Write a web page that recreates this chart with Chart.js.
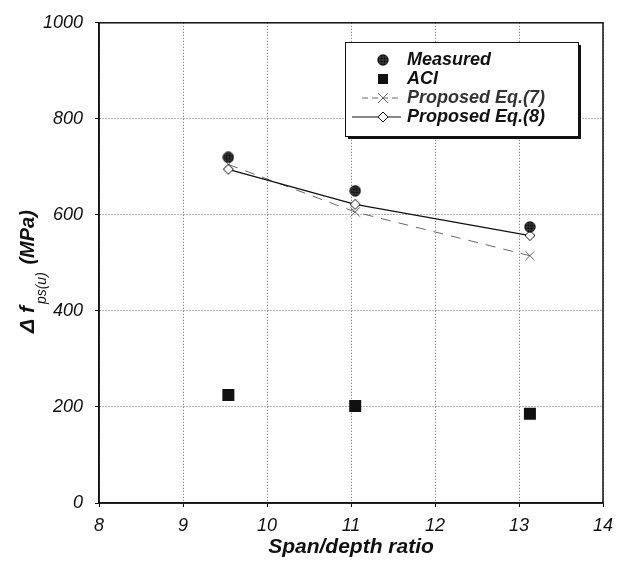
<!DOCTYPE html>
<html>
<head>
<meta charset="utf-8">
<script src="https://cdn.jsdelivr.net/npm/chart.js@4.4.1/dist/chart.umd.min.js"></script>
<style>
  html, body { margin: 0; padding: 0; background: #fff; }
  #wrap { width: 627px; height: 563px; position: relative; }
</style>
</head>
<body>
<div id="wrap"><canvas id="c" width="627" height="563"></canvas></div>
<script>
// Span/depth ratio of the three beams
const spanDepth = [9.54, 11.05, 13.13];
// Stress increase in unbonded tendons, MPa
const measured = [720, 650, 575];
const aci = [225, 202, 186];
const proposedEq7 = [705, 606, 515];
const proposedEq8 = [695, 622, 557];
// Axis ticks
const xTicks = [8, 9, 10, 11, 12, 13, 14];
const yTicks = [0, 200, 400, 600, 800, 1000];

const FONT = '"Liberation Sans", Arial, sans-serif';

// Hatched filled circle used for measured values
function hatchedCircle(d) {
  const cv = document.createElement('canvas');
  cv.width = d; cv.height = d;
  const g = cv.getContext('2d');
  const r = d / 2;
  g.beginPath(); g.arc(r, r, r - 0.3, 0, Math.PI * 2);
  g.fillStyle = '#0a0a0a'; g.fill();
  g.save(); g.clip();
  g.strokeStyle = 'rgba(255,255,255,0.3)'; g.lineWidth = 0.6;
  for (let p = 3; p < d; p += 3) {
    g.beginPath(); g.moveTo(p, 0); g.lineTo(p, d); g.stroke();
    g.beginPath(); g.moveTo(0, p); g.lineTo(d, p); g.stroke();
  }
  g.restore();
  return cv;
}
// Open diamond for Eq.(8)
function diamond(d) {
  const cv = document.createElement('canvas');
  cv.width = d + 2; cv.height = d + 2;
  const g = cv.getContext('2d');
  const c = (d + 2) / 2, h = d / 2;
  g.beginPath();
  g.moveTo(c, c - h); g.lineTo(c + h, c); g.lineTo(c, c + h); g.lineTo(c - h, c); g.closePath();
  g.fillStyle = '#fff'; g.fill();
  g.strokeStyle = '#111'; g.lineWidth = 1; g.stroke();
  return cv;
}
const circleImg = hatchedCircle(12);
const diamondImg = diamond(10);

function pts(ys) { return spanDepth.map((x, i) => ({ x: x, y: ys[i] })); }

// Frame around the plotting area, y-axis title with subscript, x-axis title, legend
const decor = {
  id: 'decor',
  afterDraw(chart) {
    const ctx = chart.ctx, a = chart.chartArea;
    ctx.save();
    ctx.strokeStyle = '#111'; ctx.lineWidth = 1.5;
    ctx.strokeRect(a.left, a.top, a.right - a.left, a.bottom - a.top);

    // x-axis title
    ctx.fillStyle = '#111';
    ctx.font = 'italic bold 21px ' + FONT;
    ctx.textAlign = 'center'; ctx.textBaseline = 'middle';
    ctx.fillText('Span/depth ratio', 351, 547);

    // y-axis title, rotated
    ctx.save();
    ctx.translate(28, 270);
    ctx.rotate(-Math.PI / 2);
    ctx.textAlign = 'left'; ctx.textBaseline = 'middle';
    let x = -63;
    ctx.font = 'italic bold 21px ' + FONT;
    ctx.fillText('\u0394 f', x, 0);
    x += ctx.measureText('\u0394 f').width + 2;
    ctx.font = 'italic 14px ' + FONT;
    ctx.fillText('ps(u)', x, 14);
    x += ctx.measureText('ps(u)').width + 2;
    ctx.font = 'italic bold 20px ' + FONT;
    ctx.fillText(' (MPa)', x, 0);
    ctx.restore();

    // legend box with drop shadow
    const bx = 345, by = 42, bw = 233, bh = 94;
    ctx.fillStyle = '#111';
    ctx.fillRect(bx + 3, by + 3, bw, bh);
    ctx.fillStyle = '#fff';
    ctx.fillRect(bx, by, bw, bh);
    ctx.strokeStyle = '#111'; ctx.lineWidth = 1;
    ctx.strokeRect(bx + 0.5, by + 0.5, bw, bh);

    const sx = 383, tx = 407;
    const rows = [60, 79, 98, 117];
    ctx.font = 'italic bold 18px ' + FONT;
    ctx.textAlign = 'left'; ctx.textBaseline = 'middle';
    // Measured
    ctx.drawImage(circleImg, sx - 6, rows[0] - 6);
    ctx.fillStyle = '#111';
    ctx.fillText('Measured', tx, rows[0]);
    // ACI
    ctx.fillRect(sx - 5, rows[1] - 5, 10, 10);
    ctx.fillText('ACI', tx, rows[1]);
    // Eq.(7)
    ctx.strokeStyle = '#666'; ctx.lineWidth = 1; ctx.setLineDash([6, 4]);
    ctx.beginPath(); ctx.moveTo(362, rows[2]); ctx.lineTo(401, rows[2]); ctx.stroke();
    ctx.setLineDash([]);
    ctx.beginPath();
    ctx.moveTo(sx - 5, rows[2] - 5); ctx.lineTo(sx + 5, rows[2] + 5);
    ctx.moveTo(sx + 5, rows[2] - 5); ctx.lineTo(sx - 5, rows[2] + 5);
    ctx.stroke();
    ctx.fillStyle = '#333';
    ctx.fillText('Proposed Eq.(7)', tx, rows[2]);
    // Eq.(8)
    ctx.strokeStyle = '#111'; ctx.lineWidth = 1.2;
    ctx.beginPath(); ctx.moveTo(352, rows[3]); ctx.lineTo(401, rows[3]); ctx.stroke();
    ctx.drawImage(diamondImg, sx - 6, rows[3] - 6);
    ctx.fillStyle = '#111';
    ctx.fillText('Proposed Eq.(8)', tx, rows[3]);
    ctx.restore();
  }
};

const tickFont = { family: FONT, size: 18, style: 'italic' };

new Chart(document.getElementById('c'), {
  type: 'scatter',
  data: {
    datasets: [
      { label: 'Measured', data: pts(measured), pointStyle: circleImg, pointRadius: 6, showLine: false },
      { label: 'ACI', data: pts(aci), pointStyle: 'rect', pointRadius: 8.5,
        backgroundColor: '#111', borderColor: '#111', borderWidth: 0, showLine: false },
      { label: 'Proposed Eq.(8)', data: pts(proposedEq8), pointStyle: diamondImg, pointRadius: 6,
        showLine: true, borderColor: '#111', borderWidth: 1.3, backgroundColor: '#fff' },
      { label: 'Proposed Eq.(7)', data: pts(proposedEq7), pointStyle: 'crossRot', pointRadius: 6.5,
        showLine: true, borderColor: '#666', borderWidth: 1, borderDash: [10, 8],
        pointBorderWidth: 1, pointBorderColor: '#666' }
    ]
  },
  options: {
    responsive: false,
    animation: false,
    layout: { padding: { top: 18, right: 24, left: 0, bottom: 0 } },
    plugins: { legend: { display: false }, tooltip: { enabled: false } },
    scales: {
      x: {
        type: 'linear', min: 8, max: 14,
        afterBuildTicks(s) { s.ticks = xTicks.map(v => ({ value: v })); },
        afterFit(s) { s.height = 60; },
        ticks: { color: '#111', padding: 8, font: tickFont, callback: v => String(v) },
        grid: { color: '#666', lineWidth: 1, tickLength: 4, tickColor: '#111' },
        border: { display: true, color: '#111', width: 1.5, dash: [1, 2] }
      },
      y: {
        type: 'linear', min: 0, max: 1000,
        afterBuildTicks(s) { s.ticks = yTicks.map(v => ({ value: v })); },
        afterFit(s) { s.width = 99; },
        ticks: { color: '#111', padding: 12, font: tickFont, callback: v => String(v) },
        grid: { color: '#666', lineWidth: 1, tickLength: 4, tickColor: '#111' },
        border: { display: true, color: '#111', width: 1.5, dash: [1, 2] }
      }
    }
  },
  plugins: [decor]
});
</script>
</body>
</html>
